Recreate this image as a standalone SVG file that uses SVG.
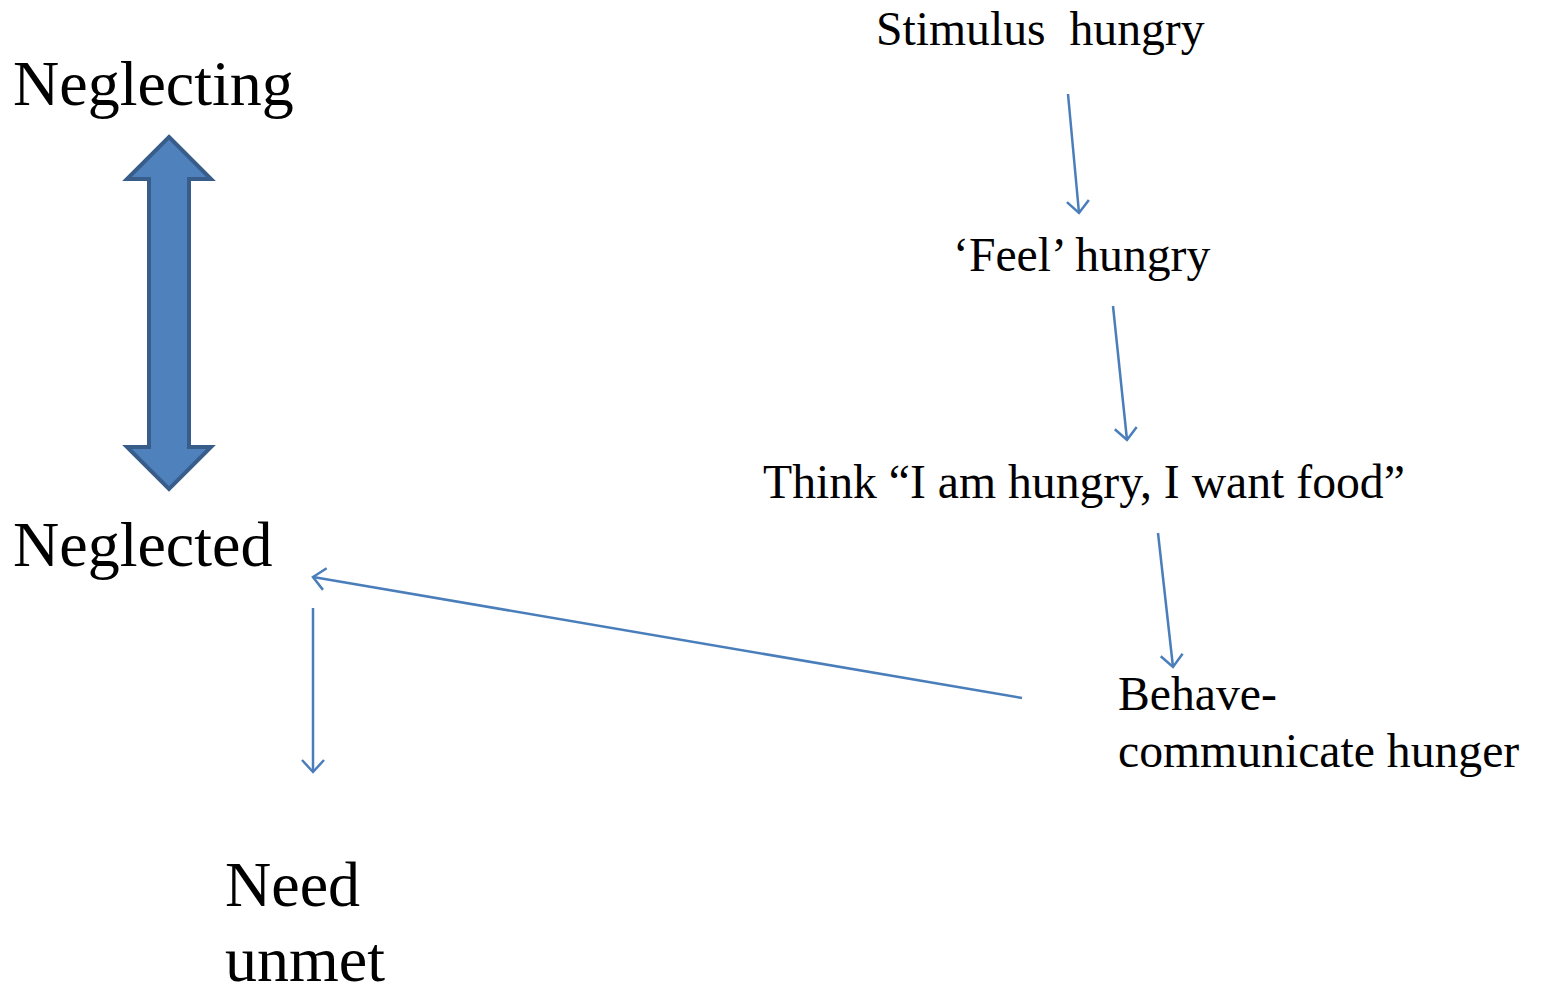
<svg xmlns="http://www.w3.org/2000/svg" width="1542" height="991" viewBox="0 0 1542 991">
<style>
text{font-family:"Liberation Serif","Times New Roman",serif;fill:#000}
.s{font-size:47.7px}
.l{font-size:64px}
.c{stroke:#4a7ebb;stroke-width:2.5;fill:none}
</style>
<defs>
<marker id="ah" markerWidth="26" markerHeight="26" refX="22" refY="13" orient="auto" markerUnits="userSpaceOnUse">
<path d="M10,2 L22,13 L10,24" fill="none" stroke="#4a7ebb" stroke-width="2.5"/>
</marker>
</defs>
<rect width="1542" height="991" fill="#fff"/>
<g id="neglecting"><text class="l" x="13" y="105">Neglecting</text></g>
<g id="double-arrow"><path d="M169,137 L211,179 L189,179 L189,447 L211,447 L169,489 L127,447 L149,447 L149,179 L127,179 Z" fill="#4f81bd" stroke="#385d8a" stroke-width="4" stroke-linejoin="miter"/></g>
<g id="neglected"><text class="l" x="13" y="566">Neglected</text></g>
<g id="need"><text class="l" x="225" y="906">Need</text><text class="l" x="225" y="981">unmet</text></g>
<g id="stimulus"><text class="s" x="876" y="45" xml:space="preserve">Stimulus  hungry</text></g>
<g id="feel"><text class="s" x="953" y="271">‘Feel’ hungry</text></g>
<g id="think"><text class="s" x="763" y="498">Think “I am hungry, I want food”</text></g>
<g id="behave"><text class="s" x="1118" y="710">Behave-</text><text class="s" x="1118" y="767">communicate hunger</text></g>
<g id="connectors">
<line class="c" x1="1068" y1="94" x2="1079" y2="213" marker-end="url(#ah)"/>
<line class="c" x1="1113" y1="306" x2="1127" y2="440" marker-end="url(#ah)"/>
<line class="c" x1="1158" y1="533" x2="1173" y2="667" marker-end="url(#ah)"/>
<line class="c" x1="1022" y1="698" x2="313" y2="577" marker-end="url(#ah)"/>
<line class="c" x1="313" y1="608" x2="313" y2="772" marker-end="url(#ah)"/>
</g>
</svg>
